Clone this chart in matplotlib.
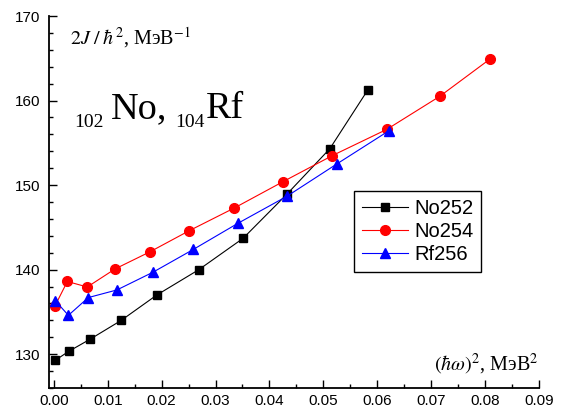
import numpy as np
import matplotlib
matplotlib.use('Agg')
import matplotlib.pyplot as plt
from matplotlib.ticker import MultipleLocator

plt.rcParams['font.family'] = ['Liberation Sans', 'DejaVu Sans']
plt.rcParams['mathtext.fontset'] = 'stix'

# (hbar*omega)^2, MeV^2  and  2J/hbar^2, MeV^-1
no252_x = [0.0003, 0.0028, 0.0068, 0.0125, 0.0191, 0.0269, 0.0351, 0.0432, 0.0512, 0.0583]
no252_y = [129.3, 130.35, 131.8, 134.0, 137.0, 140.0, 143.7, 148.9, 154.3, 161.3]

no254_x = [0.0002, 0.0025, 0.0062, 0.0114, 0.0178, 0.0251, 0.0335, 0.0425, 0.0517, 0.0618, 0.0716, 0.0809]
no254_y = [135.7, 138.6, 137.95, 140.1, 142.1, 144.6, 147.3, 150.4, 153.5, 156.6, 160.5, 164.9]

rf256_x = [0.0003, 0.0027, 0.0064, 0.0117, 0.0184, 0.0259, 0.0342, 0.0433, 0.0525, 0.0621]
rf256_y = [136.3, 134.6, 136.7, 137.6, 139.7, 142.4, 145.5, 148.7, 152.5, 156.4]

W, H = 571, 415
fig = plt.figure(figsize=(W / 100, H / 100), dpi=100)
ax = fig.add_axes([0.0858, 0.065, 0.858, 0.8964])

ax.plot(no252_x, no252_y, color='black', marker='s', ms=6, lw=0.8, label='No252')
ax.plot(no254_x, no254_y, color='red', marker='o', ms=7, lw=0.8, label='No254')
ax.plot(rf256_x, rf256_y, color='blue', marker='^', ms=7.5, lw=0.8, label='Rf256')

ax.set_xlim(-0.0009, 0.09)
ax.set_ylim(126, 170)
ax.xaxis.set_major_locator(MultipleLocator(0.01))
ax.xaxis.set_minor_locator(MultipleLocator(0.005))
ax.yaxis.set_major_locator(MultipleLocator(10))
ax.yaxis.set_minor_locator(MultipleLocator(2))
ax.xaxis.set_major_formatter(matplotlib.ticker.FormatStrFormatter('%.2f'))

ax.spines['top'].set_visible(False)
ax.spines['right'].set_visible(False)
ax.spines['left'].set_linewidth(1.3)
ax.spines['bottom'].set_linewidth(1.3)
ax.tick_params(which='major', direction='in', length=5.5, width=1, labelsize=11)
ax.tick_params(which='minor', direction='in', length=3, width=1)
ax.tick_params(axis='x', which='major', pad=4.5)
ax.tick_params(axis='y', which='major', pad=6)

serif = 'Liberation Serif'
ax.text(0.003, 166.7, r'$2J\;/\;\hbar^2$, МэВ$^{-1}$', family=serif,
        fontsize=14.5, va='baseline', ha='left')
ax.text(0.0899, 128.0, r'$(\hbar\omega)^2$, МэВ$^2$', family=serif,
        fontsize=14.5, va='baseline', ha='right')

# nucleus label: 102No, 104Rf with small subscripts
fig.text(74 / W, 1 - 127 / H, '102', family=serif, fontsize=14, va='baseline')
fig.text(111 / W, 1 - 118 / H, 'No,', family=serif, fontsize=27.5, va='baseline')
fig.text(175 / W, 1 - 127 / H, '104', family=serif, fontsize=14, va='baseline')
fig.text(206 / W, 1 - 118 / H, 'Rf', family=serif, fontsize=27.5, va='baseline')

leg = ax.legend(loc='upper left', bbox_to_anchor=(0.622, 0.5296), fontsize=14.5,
                frameon=True, fancybox=False, edgecolor='black', framealpha=1,
                handlelength=2.3, borderpad=0.4, labelspacing=0.2, handletextpad=0.3,
                borderaxespad=0)
leg.get_frame().set_linewidth(1)

fig.savefig('out.png', dpi=100)
